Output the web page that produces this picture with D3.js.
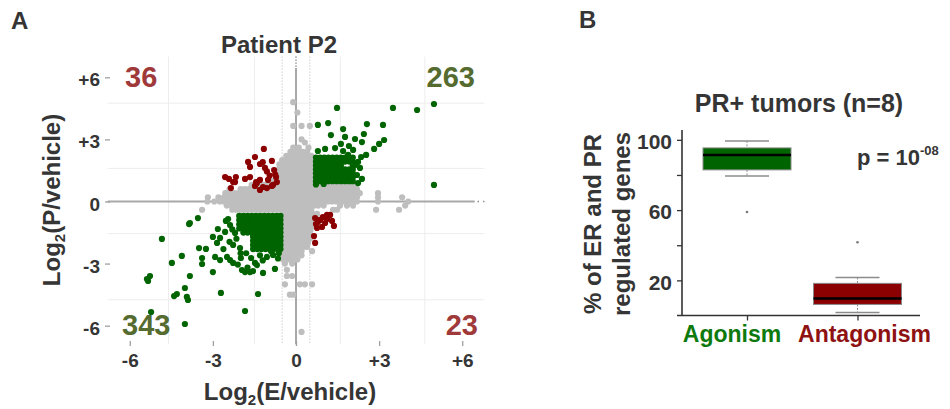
<!DOCTYPE html>
<html><head><meta charset="utf-8">
<script src="https://cdn.jsdelivr.net/npm/d3@7"></script>
<style>
body{margin:0;background:#fff}
svg{display:block}
text{font-family:"Liberation Sans",Arial,Helvetica,sans-serif;font-weight:bold}
</style>
</head><body>
<svg id="c" width="950" height="409"></svg>
<script>
// ---------------- Panel A data (log2 fold changes) ----------------
const xTickVals = [-6, -3, 0, 3, 6];
const xTickLabels = ["-6", "-3", "0", "+3", "+6"];
const yTickVals = [-6, -3, 0, 3, 6];
const yTickLabels = ["-6", "-3", "0", "+3", "+6"];
const gridX = [-4.6, -1.5, 1.6, 4.65];
const gridY = [-4.75, -1.55, 1.6, 4.75];
const thresholds = [-0.5, 0.5];
const quadrantCounts = [36, 263, 343, 23]; // up-left, up-right, down-left, down-right

// non-significant genes, rows of [log2P, [log2E ...]]
const greyRows = [
  [4.8, [-0.1]], [4.3, [0.05]], [3.65, [-0.1, 0.2, 0.5]], [3.0, [0.2]], [2.85, [0.32]],
  [2.6, [-0.1, 0.1, 0.45]],
  [2.4, [-0.2, -0.05, 0.1, 0.25, 0.4]],
  [2.2, [-0.35, -0.2, -0.05, 0.1, 0.25, 0.4, 0.55]],
  [2.0, [-0.5, -0.35, -0.2, -0.05, 0.1, 0.25, 0.4, 0.55]],
  [1.8, [-0.6, -0.45, -0.3, -0.15, 0, 0.15, 0.3, 0.45, 0.6]],
  [1.6, [-0.6, -0.45, -0.3, -0.15, 0, 0.15, 0.3, 0.45, 0.6]],
  [1.4, [-0.65, -0.5, -0.35, -0.2, -0.05, 0.1, 0.25, 0.4, 0.55]],
  [1.2, [-0.7, -0.55, -0.4, -0.25, -0.1, 0.05, 0.2, 0.35, 0.5, 0.62]],
  [1.0, [-0.9, -0.75, -0.6, -0.45, -0.3, -0.15, 0, 0.15, 0.3, 0.45, 0.6]],
  [0.8, [-1.6, -1.45, -1.3, -1.15, -1, -0.85, -0.7, -0.55, -0.4, -0.25, -0.1, 0.05, 0.2, 0.35, 0.5, 0.65, 0.8, 0.95, 1.1, 1.25, 1.4, 1.55, 1.7, 1.85, 2.0, 2.15]],
  [0.6, [-2.4, -2.0, -1.85, -1.7, -1.55, -1.4, -1.25, -1.1, -0.95, -0.8, -0.65, -0.5, -0.35, -0.2, -0.05, 0.1, 0.25, 0.4, 0.55, 0.7, 0.85, 1.0, 1.15, 1.3, 1.45, 1.6, 1.75, 1.9, 2.05, 2.2]],
  [0.4, [-2.55, -2.35, -2.2, -2.05, -1.9, -1.75, -1.6, -1.45, -1.3, -1.15, -1, -0.85, -0.7, -0.55, -0.4, -0.25, -0.1, 0.05, 0.2, 0.35, 0.5, 0.65, 0.8, 0.95, 1.1, 1.25, 1.4, 1.55, 1.7, 1.85, 2.0, 2.15, 2.3, 2.96]],
  [0.2, [-3.18, -2.8, -2.6, -2.45, -2.3, -2.15, -2, -1.85, -1.7, -1.55, -1.4, -1.25, -1.1, -0.95, -0.8, -0.65, -0.5, -0.35, -0.2, -0.05, 0.1, 0.25, 0.4, 0.55, 0.7, 0.85, 1.0, 1.15, 1.3, 1.45, 1.6, 1.75, 1.9, 2.05, 2.2, 2.96, 3.83]],
  [0.0, [-3.2, -2.95, -2.75, -2.6, -2.45, -2.3, -2.15, -2, -1.85, -1.7, -1.55, -1.4, -1.25, -1.1, -0.95, -0.8, -0.65, -0.5, -0.35, -0.2, -0.05, 0.1, 0.25, 0.4, 0.55, 0.7, 0.85, 1.0, 1.15, 1.3, 1.45, 1.6, 1.75, 1.95, 2.2, 2.96, 4.05]],
  [-0.2, [-2.5, -2.35, -2.2, -2.05, -1.9, -1.75, -1.6, -1.45, -1.3, -1.15, -1, -0.85, -0.7, -0.55, -0.4, -0.25, -0.1, 0.05, 0.2, 0.35, 0.5, 0.65, 0.8, 1.0, 1.59, 1.84, 2.06, 3.94]],
  [-0.4, [-3.39, -2.3, -2.15, -2.0, -1.85, -1.7, -1.55, -1.4, -1.25, -1.1, -0.95, -0.8, -0.65, -0.5, -0.35, -0.2, -0.05, 0.1, 0.25, 0.4, 0.55, 1.34, 1.48, 2.89, 3.72]],
  [-0.6, [-0.45, -0.3, -0.15, 0, 0.15, 0.3, 0.45, 0.6, 0.76]],
  [-0.8, [-0.5, -0.35, -0.2, -0.05, 0.1, 0.25, 0.4, 0.55]],
  [-1.0, [-0.5, -0.35, -0.2, -0.05, 0.1, 0.25, 0.4, 0.55]],
  [-1.2, [-0.5, -0.35, -0.2, -0.05, 0.1, 0.25, 0.4, 0.58]],
  [-1.4, [-0.5, -0.35, -0.2, -0.05, 0.1, 0.25, 0.4, 0.52]],
  [-1.6, [-0.5, -0.35, -0.2, -0.05, 0.1, 0.25, 0.4, 0.5]],
  [-1.8, [-0.5, -0.35, -0.2, -0.05, 0.1, 0.25, 0.4, 0.5]],
  [-2.0, [-0.5, -0.35, -0.2, -0.05, 0.1, 0.25, 0.43]],
  [-2.2, [-0.5, -0.35, -0.2, -0.05, 0.1, 0.25, 0.4]],
  [-2.4, [-0.5, -0.35, -0.2, -0.05, 0.1, 0.2, 0.58]],
  [-2.6, [-0.45, -0.3, -0.15, 0, 0.2]],
  [-2.8, [-0.47, -0.3, -0.14, 0.05]],
  [-3.0, [-0.4, -0.14]], [-3.3, [-0.33]], [-3.6, [-0.33, -0.14]],
  [-4.0, [-0.4, 0.14, 0.32, 0.58]], [-4.5, [-0.22, -0.1]], [-6.3, [0.2]]
];

// agonism (same direction) genes: dense cores as rows + scattered points
const agonismUpRows = [
  [2.12, [0.72, 0.87, 1.02, 1.17, 1.32, 1.47, 1.62, 1.77, 1.92, 2.05]],
  [1.93, [0.72, 0.87, 1.02, 1.17, 1.32, 1.47, 1.62, 1.77, 1.92, 2.05]],
  [1.74, [0.72, 0.87, 1.02, 1.17, 1.32, 1.47, 1.62, 2.05]],
  [1.55, [0.72, 0.87, 1.02, 1.17, 1.32, 1.47, 1.62, 1.77, 1.92, 2.05]],
  [1.36, [0.72, 0.87, 1.02, 1.17, 1.32, 1.47, 1.62, 1.77, 1.92, 2.05]],
  [1.17, [0.72, 0.87, 1.02, 1.17, 1.32, 1.47, 1.62, 1.77, 1.92, 2.05]],
  [0.98, [0.72, 0.87, 1.02, 1.17, 1.32, 1.47, 1.62, 1.77, 1.92, 2.05]]
];
const agonismUpPts = [
  [1.48, 4.52], [3.50, 4.52], [4.37, 4.42], [4.98, 4.71], [0.79, 3.70], [1.16, 3.79], [2.56, 3.74], [3.14, 3.70],
  [1.70, 3.50], [1.26, 3.21], [1.77, 3.12], [2.45, 3.26], [2.13, 3.02], [2.38, 2.87], [3.18, 2.97], [3.00, 2.78],
  [1.62, 2.78], [1.91, 2.68], [1.41, 2.58], [1.05, 2.54], [0.79, 2.44], [1.70, 2.44], [2.06, 2.49], [2.82, 2.54],
  [1.88, 2.25], [2.35, 2.15], [2.53, 2.25], [2.24, 1.91], [2.31, 1.62], [2.20, 1.28], [2.38, 1.09], [2.24, 0.89],
  [4.98, 0.80], [2.13, 1.76], [0.72, 0.82], [1.0, 0.85]
];
const agonismDownRows = [
  [-0.7, [-2.05, -1.9, -1.75, -1.6, -1.45, -1.3, -1.15, -1.0, -0.85, -0.7, -0.56]],
  [-0.9, [-2.05, -1.9, -1.75, -1.6, -1.45, -1.3, -1.15, -1.0, -0.85, -0.7, -0.56]],
  [-1.1, [-2.05, -1.9, -1.75, -1.6, -1.45, -1.3, -1.15, -1.0, -0.85, -0.7, -0.56]],
  [-1.3, [-2.05, -1.9, -1.75, -1.6, -1.45, -1.3, -1.15, -1.0, -0.85, -0.7, -0.56]],
  [-1.5, [-1.9, -1.75, -1.6, -1.45, -1.3, -1.15, -1.0, -0.85, -0.7, -0.56]],
  [-1.7, [-1.55, -1.4, -1.25, -1.1, -0.95, -0.8, -0.65, -0.56]],
  [-1.9, [-1.55, -1.4, -1.25, -1.1, -0.95, -0.8, -0.65, -0.56]],
  [-2.1, [-1.55, -1.4, -1.25, -1.1, -0.95, -0.8, -0.65, -0.56]],
  [-2.3, [-1.55, -1.4, -1.25, -1.1, -0.95, -0.8, -0.65, -0.56]]
];
const agonismDownPts = [
  [-3.54, -0.80], [-3.86, -1.09], [-4.84, -1.81], [-3.50, -2.25], [-3.25, -2.29], [-4.12, -2.63], [-3.39, -2.73],
  [-3.39, -3.02], [-4.48, -2.97], [-2.92, -2.68], [-2.74, -2.83], [-2.49, -2.68], [-2.38, -2.83], [-2.27, -2.97],
  [-1.99, -2.73], [-3.00, -3.41], [-5.27, -3.60], [-5.34, -3.84], [-5.38, -3.75], [-3.83, -3.60], [-4.01, -4.18],
  [-4.40, -4.57], [-4.30, -4.47], [-3.94, -4.61], [-3.90, -4.76], [-2.71, -4.42], [-1.37, -4.47], [-1.84, -5.29],
  [-5.23, -5.34], [-4.01, -5.92], [-2.85, -2.00], [-2.74, -1.76], [-3.00, -1.71], [-2.82, -1.33], [-2.56, -1.47],
  [-2.53, -0.94], [-2.38, -1.14], [-2.20, -1.52], [-2.27, -2.10], [-2.02, -2.25], [-1.62, -2.73], [-1.48, -2.97],
  [-1.41, -3.07], [-1.95, -3.31], [-1.84, -3.41], [-1.66, -3.41], [-1.55, -3.36], [-1.19, -3.45], [-0.76, -3.26],
  [-1.05, -2.68], [-0.83, -2.58], [-0.69, -2.25], [-3.83, -1.04], [-2.45, -0.85], [-2.3, -1.35], [-2.15, -1.8],
  [-2.4, -1.95], [-2.0, -2.5], [-1.8, -2.5], [-1.3, -2.6], [-1.75, -3.2], [-0.9, -2.4], [-0.62, -2.5],
  [-0.65, -2.75], [-1.2, -2.85], [-2.62, -2.3], [-2.1, -3.05]
];
// antagonism (opposite direction) genes
const antagonismUpLeft = [
  [-1.16, 2.54], [-1.48, 2.15], [-0.87, 1.96], [-1.73, 1.91], [-1.30, 1.81], [-1.66, 1.67], [-1.12, 1.62], [-0.79, 1.52],
  [-2.56, 1.18], [-2.42, 1.09], [-2.17, 1.18], [-1.84, 1.09], [-1.66, 1.18], [-1.44, 0.94], [-1.30, 1.04], [-1.01, 1.04],
  [-0.72, 1.18], [-0.69, 0.94], [-2.20, 0.94], [-2.35, 0.65], [-1.48, 0.75], [-1.19, 0.70], [-1.05, 0.65], [-0.87, 0.75],
  [-1.30, 0.56], [-2.27, 0.94], [-1.41, 0.89], [-0.83, 0.80], [-1.05, 1.45], [-0.95, 1.25], [-1.2, 1.9], [-0.75, 1.3]
];
const antagonismDownRight = [
  [0.69, -0.80], [0.79, -0.99], [0.97, -0.75], [1.12, -0.85], [1.23, -0.65], [1.30, -0.94], [1.37, -1.18], [0.76, -1.28],
  [0.94, -1.23], [0.65, -1.67], [0.69, -2.00], [1.05, -1.04], [0.87, -0.89], [0.72, -1.09], [1.12, -0.65]
];

// ---------------- Panel B data ----------------
const categories = ["Agonism", "Antagonism"];
const boxQ1 = [82.9, 6.3];
const boxMedian = [91.4, 9.7];
const boxQ3 = [95.4, 18.3];
const whiskerLow = [79.4, 1.7];
const whiskerHigh = [99.4, 21.7];
const outliers = [[58.9], [41.7]];
const bYTicks = [20, 40, 60, 80, 100];
const bYLabelled = [20, 60, 100];

// ---------------- drawing ----------------
const svg = d3.select("#c");
const TXT = "#353535";
const GREY = "#bebebe", GREEN = "#006400", RED = "#8b0000";
const rows = r => r.flatMap(([y, xs]) => xs.map(x => [x, y]));

const x = d3.scaleLinear().domain([-6.8, 6.8]).range([107.6, 484.4]);
const y = d3.scaleLinear().domain([-6.9, 7.0]).range([344.3, 56.6]);
const gA = svg.append("g");

// faint grid
gA.selectAll(".gx").data(gridX).join("line")
  .attr("x1", d => x(d)).attr("x2", d => x(d)).attr("y1", y(7.0)).attr("y2", y(-6.9))
  .attr("stroke", "#ededed").attr("stroke-width", 1);
gA.selectAll(".gy").data(gridY).join("line")
  .attr("y1", d => y(d)).attr("y2", d => y(d)).attr("x1", x(-6.8)).attr("x2", x(6.8))
  .attr("stroke", "#ededed").attr("stroke-width", 1);

// threshold dotted lines
gA.selectAll(".th").data(thresholds).join("line")
  .attr("x1", d => x(d)).attr("x2", d => x(d)).attr("y1", y(7.0)).attr("y2", y(-6.9))
  .attr("stroke", "#b5b5b5").attr("stroke-width", 1).attr("stroke-dasharray", "1,2");
gA.append("line").attr("x1", x(0)).attr("x2", x(0)).attr("y1", y(7.0)).attr("y2", y(6.45))
  .attr("stroke", "#222").attr("stroke-width", 1).attr("stroke-dasharray", "1,2");
gA.append("line").attr("x1", x(6.55)).attr("x2", x(6.8)).attr("y1", y(0)).attr("y2", y(0))
  .attr("stroke", "#888").attr("stroke-width", 1.5).attr("stroke-dasharray", "1.5,4");

// zero lines
gA.append("line").attr("x1", x(0)).attr("x2", x(0)).attr("y1", y(6.45)).attr("y2", y(-6.9))
  .attr("stroke", "#a8a8a8").attr("stroke-width", 2);
gA.append("line").attr("x1", x(-6.8)).attr("x2", x(6.45)).attr("y1", y(0)).attr("y2", y(0))
  .attr("stroke", "#a8a8a8").attr("stroke-width", 2);

function dots(data, color) {
  gA.append("g").selectAll("circle").data(data).join("circle")
    .attr("cx", d => x(d[0])).attr("cy", d => y(d[1])).attr("r", 3.1).attr("fill", color);
}
dots(rows(greyRows), GREY);
dots(rows(agonismUpRows).concat(agonismUpPts), GREEN);
dots(rows(agonismDownRows).concat(agonismDownPts), GREEN);
dots(antagonismUpLeft, RED);
dots(antagonismDownRight, RED);

// axes A
const axX = gA.append("g").attr("transform", "translate(0,341)")
  .call(d3.axisBottom(x).tickValues(xTickVals).tickFormat((d, i) => xTickLabels[i]).tickSize(5).tickPadding(7.5));
const axY = gA.append("g").attr("transform", "translate(110,0)")
  .call(d3.axisLeft(y).tickValues(yTickVals).tickFormat((d, i) => yTickLabels[i]).tickSize(5).tickPadding(5));
[axX, axY].forEach(a => {
  a.select(".domain").remove();
  a.selectAll(".tick line").attr("stroke", "#a0a0a0").attr("stroke-width", 1.3);
  a.selectAll(".tick text").attr("fill", TXT).style("font-size", "19px")
    .style("font-family", '"Liberation Sans",Arial,sans-serif').style("font-weight", "bold");
});
axY.selectAll(".tick text").attr("dy", "0.45em");

// quadrant counts
const countPos = [
  {x: 125, y: 87, a: "start", c: "#a03a3a"},
  {x: 475, y: 87, a: "end", c: "#556b2f"},
  {x: 122, y: 335, a: "start", c: "#556b2f"},
  {x: 478, y: 335, a: "end", c: "#a03a3a"}
];
gA.selectAll(".cnt").data(quadrantCounts).join("text")
  .attr("x", (d, i) => countPos[i].x).attr("y", (d, i) => countPos[i].y)
  .attr("text-anchor", (d, i) => countPos[i].a).attr("fill", (d, i) => countPos[i].c)
  .style("font-size", "29px").text(d => d);

// titles / labels A
svg.append("text").attr("x", 11).attr("y", 29).attr("fill", TXT).style("font-size", "24px").text("A");
svg.append("text").attr("x", 279).attr("y", 53).attr("text-anchor", "middle").attr("fill", TXT)
  .style("font-size", "24px").text("Patient P2");
const xl = svg.append("text").attr("x", 290).attr("y", 400).attr("text-anchor", "middle").attr("fill", TXT).style("font-size", "24px");
xl.append("tspan").text("Log");
xl.append("tspan").attr("dy", 5).style("font-size", "15px").text("2");
xl.append("tspan").attr("dy", -5).text("(E/vehicle)");
const yl = svg.append("text").attr("transform", "translate(60,200) rotate(-90)").attr("text-anchor", "middle").attr("fill", TXT).style("font-size", "24px");
yl.append("tspan").text("Log");
yl.append("tspan").attr("dy", 5).style("font-size", "15px").text("2");
yl.append("tspan").attr("dy", -5).text("(P/vehicle)");

// ---------------- Panel B ----------------
const gB = svg.append("g");
const by = d3.scaleLinear().domain([0, 105.6]).range([315.5, 130]);
const bx = d3.scalePoint().domain(categories).range([747, 857.5]);
const boxFill = [GREEN, RED];
const labelFill = ["#0e7a0e", "#8e1212"];

svg.append("text").attr("x", 579).attr("y", 28).attr("fill", TXT).style("font-size", "24px").text("B");
svg.append("text").attr("x", 799).attr("y", 112).attr("text-anchor", "middle").attr("fill", TXT)
  .style("font-size", "25px").text("PR+ tumors (n=8)");

// axis lines
gB.append("line").attr("x1", 682).attr("x2", 682).attr("y1", by(105.6)).attr("y2", by(0))
  .attr("stroke", "#333").attr("stroke-width", 1.6);
gB.append("line").attr("x1", 677).attr("x2", 920).attr("y1", by(0)).attr("y2", by(0))
  .attr("stroke", "#333").attr("stroke-width", 1.6);
const bAxY = gB.append("g").attr("transform", "translate(682,0)")
  .call(d3.axisLeft(by).tickValues(bYTicks).tickFormat(d => bYLabelled.includes(d) ? d : "").tickSize(5).tickPadding(5));
const bAxX = gB.append("g").attr("transform", `translate(0,${by(0)})`)
  .call(d3.axisBottom(bx).tickSize(5).tickFormat(""));
[bAxY, bAxX].forEach(a => {
  a.select(".domain").remove();
  a.selectAll(".tick line").attr("stroke", "#333").attr("stroke-width", 1.3);
});
bAxY.selectAll(".tick text").attr("fill", TXT).attr("dy", "0.42em").style("font-size", "21px")
  .style("font-family", '"Liberation Sans",Arial,sans-serif').style("font-weight", "bold");

// boxes
const bw = 44, cw = 22;
categories.forEach((c, i) => {
  const cx = bx(c);
  gB.append("line").attr("x1", cx).attr("x2", cx).attr("y1", by(whiskerHigh[i])).attr("y2", by(boxQ3[i]))
    .attr("stroke", "#8c8c8c").attr("stroke-width", 1).attr("stroke-dasharray", "2,1.5");
  gB.append("line").attr("x1", cx).attr("x2", cx).attr("y1", by(boxQ1[i])).attr("y2", by(whiskerLow[i]))
    .attr("stroke", "#8c8c8c").attr("stroke-width", 1).attr("stroke-dasharray", "2,1.5");
  [whiskerHigh[i], whiskerLow[i]].forEach(v => {
    gB.append("line").attr("x1", cx - cw).attr("x2", cx + cw).attr("y1", by(v)).attr("y2", by(v))
      .attr("stroke", "#8c8c8c").attr("stroke-width", 1.5);
  });
  gB.append("rect").attr("x", cx - bw).attr("width", 2 * bw)
    .attr("y", by(boxQ3[i])).attr("height", by(boxQ1[i]) - by(boxQ3[i]))
    .attr("fill", boxFill[i]).attr("stroke", "#8a8a8a").attr("stroke-width", 1);
  gB.append("line").attr("x1", cx - bw).attr("x2", cx + bw).attr("y1", by(boxMedian[i])).attr("y2", by(boxMedian[i]))
    .attr("stroke", "#000").attr("stroke-width", 2.5);
  gB.selectAll(null).data(outliers[i]).join("circle")
    .attr("cx", cx).attr("cy", d => by(d)).attr("r", 1.3).attr("fill", "#7a7a7a");
});

// category labels
const labelDx = [-15, 7];
gB.selectAll(".cat").data(categories).join("text")
  .attr("x", (d, i) => bx(d) + labelDx[i]).attr("y", 342).attr("text-anchor", "middle")
  .attr("fill", (d, i) => labelFill[i]).style("font-size", "23px").text(d => d);

// y label B
svg.append("text").attr("transform", "translate(601,224) rotate(-90)").attr("text-anchor", "middle")
  .attr("fill", TXT).style("font-size", "24px").text("% of ER and PR");
svg.append("text").attr("transform", "translate(630,224) rotate(-90)").attr("text-anchor", "middle")
  .attr("fill", TXT).style("font-size", "24px").text("regulated genes");

// p value
const pt = svg.append("text").attr("x", 857).attr("y", 165).attr("fill", TXT).style("font-size", "22px");
pt.append("tspan").text("p = 10");
pt.append("tspan").attr("dy", -10).style("font-size", "13px").text("-08");
</script>
</body></html>
